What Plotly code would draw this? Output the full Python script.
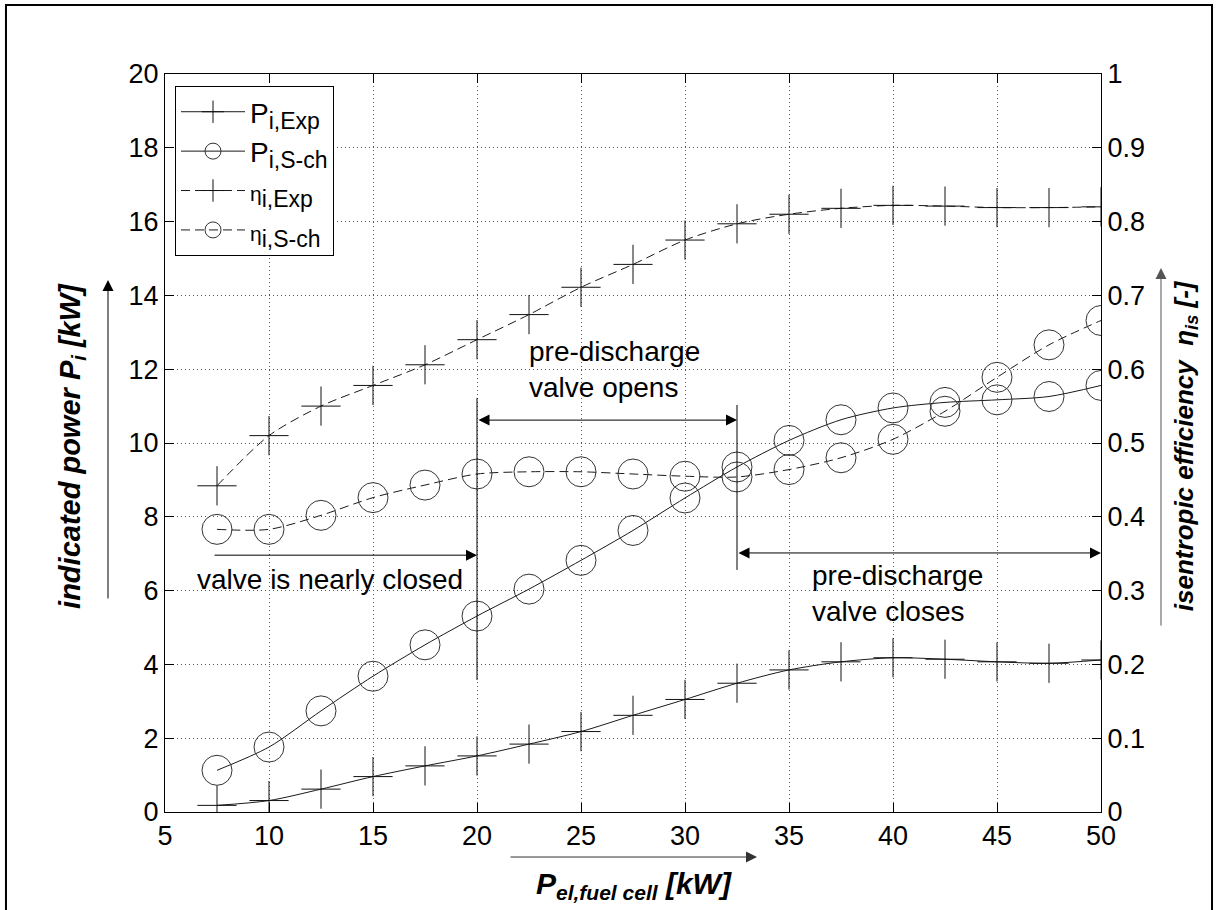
import plotly.graph_objects as go

# Electrical fuel-cell power [kW]
p_el = [7.5, 10, 12.5, 15, 17.5, 20, 22.5, 25, 27.5, 30,
        32.5, 35, 37.5, 40, 42.5, 45, 47.5, 50]

# Indicated power [kW]
p_i_exp = [0.18, 0.31, 0.62, 0.96, 1.25, 1.52, 1.84, 2.18, 2.62, 3.05,
           3.49, 3.85, 4.07, 4.18, 4.14, 4.07, 4.03, 4.12]
p_i_sch = [1.13, 1.76, 2.74, 3.68, 4.53, 5.31, 6.04, 6.82, 7.63, 8.51,
           9.35, 10.07, 10.63, 10.95, 11.10, 11.17, 11.26, 11.56]

# Isentropic efficiency [-]
eta_exp = [0.442, 0.510, 0.550, 0.578, 0.606, 0.640, 0.674, 0.711, 0.742, 0.775,
           0.797, 0.810, 0.818, 0.822, 0.821, 0.819, 0.819, 0.820]
eta_sch = [0.383, 0.383, 0.402, 0.426, 0.443, 0.458, 0.461, 0.461, 0.458, 0.455,
           0.454, 0.464, 0.480, 0.505, 0.543, 0.589, 0.633, 0.666]

x_ticks = [5, 10, 15, 20, 25, 30, 35, 40, 45, 50]
y_ticks = list(range(0, 21, 2))
y2_ticks = [round(0.1 * k, 1) for k in range(11)]
y2_labels = ["0", "0.1", "0.2", "0.3", "0.4", "0.5", "0.6", "0.7", "0.8", "0.9", "1"]

FONT = "Liberation Sans, Arial, sans-serif"
LINE = "#1a1a1a"
DASH = "9px,5px"

cross = dict(symbol="cross-thin", size=28, line=dict(width=1, color="#111"))
circle = dict(symbol="circle-open", size=30, color="#333", line=dict(width=1, color="#333"))


def sub(text, size=23):
    return "<sub><span style='font-size:%dpx'>%s</span></sub>" % (size, text)


ETA = "<span style='font-size:21px'>η</span>"

fig = go.Figure()
fig.add_trace(go.Scatter(
    x=p_el, y=p_i_exp, name="P" + sub("i,Exp"), mode="lines+markers",
    line=dict(color=LINE, width=1, shape="spline", smoothing=0.8), marker=cross))
fig.add_trace(go.Scatter(
    x=p_el, y=p_i_sch, name="P" + sub("i,S-ch"), mode="lines+markers",
    line=dict(color=LINE, width=1, shape="spline", smoothing=0.8), marker=circle))
fig.add_trace(go.Scatter(
    x=p_el, y=eta_exp, name=ETA + sub("i,Exp"),
    mode="lines+markers", yaxis="y2",
    line=dict(color=LINE, width=1, dash=DASH, shape="spline", smoothing=0.8), marker=cross))
fig.add_trace(go.Scatter(
    x=p_el, y=eta_sch, name=ETA + sub("i,S-ch"),
    mode="lines+markers", yaxis="y2",
    line=dict(color=LINE, width=1, dash=DASH, shape="spline", smoothing=0.8), marker=circle))

# Valve-state markers
shapes = [
    dict(type="line", xref="x", yref="y", x0=20, x1=20, y0=3.58, y1=11.22,
         line=dict(color="black", width=1)),
    dict(type="line", xref="x", yref="y", x0=32.5, x1=32.5, y0=6.56, y1=11.03,
         line=dict(color="black", width=1)),
    # outer frame
    dict(type="rect", xref="paper", yref="paper", x0=-0.1699, x1=1.1186,
         y0=-0.15, y1=1.0935, line=dict(color="black", width=2)),
]


def arrow(x_head, y_head, x_tail, y_tail, both=False):
    a = dict(x=x_head, y=y_head, ax=x_tail, ay=y_tail, xref="x", yref="y",
             axref="x", ayref="y", text="", showarrow=True, arrowhead=2,
             arrowsize=2.2, arrowwidth=1, arrowcolor="black", standoff=0)
    if both:
        a.update(arrowside="end+start", startarrowhead=2, startarrowsize=2.2,
                 startstandoff=0)
    return a


ann_font = dict(family=FONT, size=28, color="black")
annotations = [
    arrow(32.5, 10.62, 20, 10.62, both=True),
    arrow(20, 6.96, 7.31, 6.96),
    arrow(50, 7.02, 32.5, 7.02, both=True),
    dict(x=22.4, y=12.0, xref="x", yref="y", text="pre-discharge<br>valve opens",
         showarrow=False, xanchor="left", yanchor="middle", align="left", font=ann_font),
    dict(x=6.44, y=6.29, xref="x", yref="y", text="valve is nearly closed",
         showarrow=False, xanchor="left", yanchor="middle", align="left", font=ann_font),
    dict(x=36.0, y=5.91, xref="x", yref="y", text="pre-discharge<br>valve closes",
         showarrow=False, xanchor="left", yanchor="middle", align="left", font=ann_font),
    # axis titles
    dict(x=-0.0994, y=0.496, xref="paper", yref="paper", textangle=-90,
         text="<b><i>indicated power P<sub>i</sub> [kW]</i></b>", showarrow=False,
         xanchor="center", yanchor="middle", font=dict(family=FONT, size=29, color="black")),
    dict(x=1.0897, y=0.497, xref="paper", yref="paper", textangle=-90,
         text="<b><i>isentropic efficiency  η<sub>is</sub> [-]</i></b>", showarrow=False,
         xanchor="center", yanchor="middle", font=dict(family=FONT, size=26, color="black")),
    dict(x=0.501, y=-0.099, xref="paper", yref="paper",
         text="<b><i>P<sub>el,fuel cell</sub> [kW]</i></b>", showarrow=False,
         xanchor="center", yanchor="middle", font=dict(family=FONT, size=30, color="black")),
    # axis direction arrows
    dict(x=-0.0609, y=0.7209, xref="paper", yref="paper", axref="pixel", ayref="pixel",
         ax=0, ay=320, text="", showarrow=True, arrowhead=2, arrowsize=2.2,
         arrowwidth=1, arrowcolor="black", standoff=0),
    dict(x=1.0641, y=0.737, xref="paper", yref="paper", axref="pixel", ayref="pixel",
         ax=0, ay=359, text="", showarrow=True, arrowhead=2, arrowsize=2.2,
         arrowwidth=1, arrowcolor="#555", standoff=0),
    dict(x=0.6325, y=-0.061, xref="paper", yref="paper", axref="pixel", ayref="pixel",
         ax=-248, ay=0, text="", showarrow=True, arrowhead=2, arrowsize=2.2,
         arrowwidth=1, arrowcolor="#333", standoff=0),
]

grid = dict(showgrid=True, gridcolor="#555", gridwidth=1, griddash="1px,3px")
tick_font = dict(family=FONT, size=27, color="black")

fig.update_layout(
    width=1216, height=910,
    margin=dict(l=165, r=115, t=74, b=98),
    paper_bgcolor="white", plot_bgcolor="white",
    font=dict(family=FONT, color="black"),
    showlegend=True,
    legend=dict(x=0.0107, y=0.9837, xanchor="left", yanchor="top",
                bgcolor="white", bordercolor="black", borderwidth=1,
                font=dict(family=FONT, size=28, color="black"),
                itemwidth=64, tracegroupgap=0),
    xaxis=dict(range=[5, 50], tickvals=x_ticks, ticks="inside", ticklen=9,
               tickcolor="black", showline=True, linecolor="black", linewidth=1,
               mirror="ticks", tickfont=tick_font, zeroline=False, **grid),
    yaxis=dict(range=[0, 20], tickvals=y_ticks, ticks="inside", ticklen=9,
               tickcolor="black", showline=True, linecolor="black", linewidth=1,
               tickfont=tick_font, zeroline=False, **grid),
    yaxis2=dict(range=[0, 1], tickvals=y2_ticks, ticktext=y2_labels, overlaying="y",
                side="right", ticks="inside", ticklen=9, tickcolor="black",
                showline=True, linecolor="black", linewidth=1, showgrid=False,
                tickfont=tick_font, zeroline=False),
    shapes=shapes,
    annotations=annotations,
)

fig.write_html("out.html")
